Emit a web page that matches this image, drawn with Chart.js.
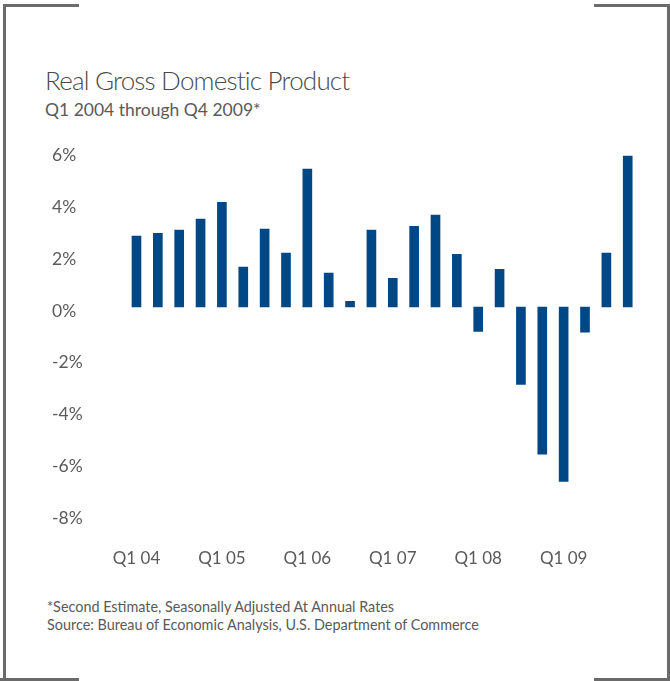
<!DOCTYPE html>
<html>
<head>
<meta charset="utf-8">
<script src="https://cdn.jsdelivr.net/npm/chart.js@4.4.1/dist/chart.umd.min.js"></script>
<style>
  html, body { margin: 0; padding: 0; background: #fff; }
  body { width: 670px; height: 681px; position: relative; overflow: hidden;
         font-family: Lato, "Open Sans", sans-serif; color: #5a5a5a; }
  .frame { position: absolute; background: #6b6b6b; }
  .title { position: absolute; left: 45px; top: 64.6px; font-size: 26px; line-height: 31.2px;
           white-space: nowrap; letter-spacing: -0.8px; font-weight: 300; color: #4a4a4a; }
  .subtitle { position: absolute; left: 45px; top: 98.5px; font-size: 17.5px; line-height: 21px;
              white-space: nowrap; }
  .notes { position: absolute; left: 47px; top: 598px; font-size: 14.4px; line-height: 18px;
           white-space: nowrap; }
  #chart-box { position: absolute; left: 0; top: 130px; width: 670px; height: 450px; }
</style>
</head>
<body>
<!-- bracket frame: full side rules, short corner pieces -->
<div class="frame" style="left:3px;top:4px;width:3px;height:677px"></div>
<div class="frame" style="left:667px;top:4px;width:3px;height:677px"></div>
<div class="frame" style="left:3px;top:4px;width:76px;height:3px"></div>
<div class="frame" style="left:594px;top:4px;width:76px;height:3px"></div>
<div class="frame" style="left:0;top:678px;width:79px;height:3px"></div>
<div class="frame" style="left:594px;top:678px;width:76px;height:3px"></div>

<div class="title">Real Gross Domestic Product</div>
<div class="subtitle">Q1 2004 through Q4 2009*</div>

<div id="chart-box"><canvas id="gdp-chart"></canvas></div>

<div class="notes">*Second Estimate, Seasonally Adjusted At Annual Rates<br>Source: Bureau of Economic Analysis, U.S. Department of Commerce</div>

<script>
// quarterly real GDP change, annualised %
const quarters = [
  "Q1 04", "Q2 04", "Q3 04", "Q4 04",
  "Q1 05", "Q2 05", "Q3 05", "Q4 05",
  "Q1 06", "Q2 06", "Q3 06", "Q4 06",
  "Q1 07", "Q2 07", "Q3 07", "Q4 07",
  "Q1 08", "Q2 08", "Q3 08", "Q4 08",
  "Q1 09", "Q2 09", "Q3 09", "Q4 09",
];
const gdpChange = [
  2.74, 2.85, 2.97, 3.40,
  4.05, 1.54, 3.01, 2.08,
  5.33, 1.31, 0.22, 2.97,
  1.11, 3.12, 3.55, 2.04,
  -0.94, 1.46, -2.99, -5.69,
  -6.74, -0.97, 2.08, 5.83,
];
const yTicks = [6, 4, 2, 0, -2, -4, -6, -8];

const BAR_COLOR = "#004786";
const TEXT_COLOR = "#5a5a5a";

Chart.defaults.font.family = 'Lato, "Open Sans", sans-serif';
Chart.defaults.color = TEXT_COLOR;

const ctx = document.getElementById("gdp-chart").getContext("2d");
new Chart(ctx, {
  type: "bar",
  data: {
    labels: quarters,
    datasets: [
      {
        label: "Real GDP",
        data: gdpChange,
        backgroundColor: BAR_COLOR,
        barThickness: 9,
      },
    ],
  },
  options: {
    responsive: true,
    maintainAspectRatio: false,
    animation: false,
    layout: { padding: { left: 52, right: 31.6, top: 21.8, bottom: 0 } },
    plugins: {
      legend: { display: false },
      tooltip: { enabled: false },
    },
    scales: {
      x: {
        grid: { display: false, drawTicks: false },
        border: { display: false },
        afterFit: (scale) => { scale.height = 66.1; },
        ticks: {
          autoSkip: false,
          maxRotation: 0,
          padding: 34,
          font: { size: 17 },
          callback: (v, i) => (i % 4 === 0 ? quarters[i] : ""),
        },
      },
      y: {
        min: Math.min(...yTicks),
        max: Math.max(...yTicks),
        grid: { display: false, drawTicks: false },
        border: { display: false },
        afterFit: (scale) => { scale.width = 73.8; },
        afterBuildTicks: (scale) => { scale.ticks = yTicks.map((v) => ({ value: v })); },
        ticks: {
          crossAlign: "far",
          labelOffset: 4,
          font: { size: 17.5 },
          callback: (v) => `${v}%`,
        },
      },
    },
  },
});
</script>
</body>
</html>
